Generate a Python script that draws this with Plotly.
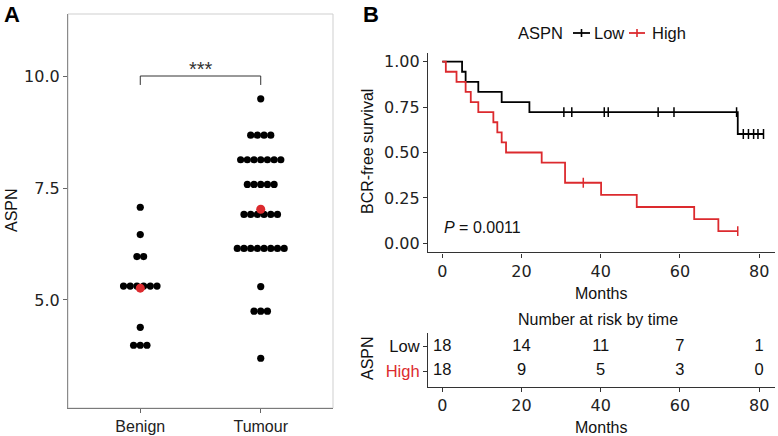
import plotly.graph_objects as go

# ---------------- Panel A data ----------------
groups = ["Benign", "Tumour"]
benign_aspn = [7.07, 6.46, 5.97, 5.97, 5.31, 5.31, 5.31, 5.31, 5.31, 5.31,
               4.39, 3.99, 3.99, 3.99]
tumour_aspn = [9.49,
               8.68, 8.68, 8.68, 8.68,
               8.13, 8.13, 8.13, 8.13, 8.13, 8.13, 8.13,
               7.58, 7.58, 7.58, 7.58, 7.58,
               6.91, 6.91, 6.91, 6.91, 6.91, 6.91,
               6.15, 6.15, 6.15, 6.15, 6.15, 6.15, 6.15, 6.15,
               5.30,
               4.75, 4.75, 4.75,
               3.70]
a_yticks = [5.0, 7.5, 10.0]
signif_label = "***"
bracket_level = 10.0

# ---------------- Panel B data ----------------
low_times = [5.0, 5.9, 9.1, 15.0, 22.0, 30.7, 32.7, 40.9, 41.9, 54.5, 58.5,
             74.3, 74.6, 76.0, 77.3, 78.6, 79.7, 81.1]
low_event = [1, 1, 1, 1, 1, 0, 0, 0, 0, 0, 0, 0, 1, 0, 0, 0, 0, 0]
high_times = [0.9, 3.6, 5.9, 7.2, 9.1, 12.9, 13.9, 15.0, 16.1, 25.1, 31.0,
              31.0, 35.6, 40.1, 49.1, 63.6, 69.7, 74.6]
high_event = [1, 1, 1, 1, 1, 1, 1, 1, 1, 1, 1, 1, 0, 1, 1, 1, 1, 0]
b_xticks = [0, 20, 40, 60, 80]
b_yticks = [0.0, 0.25, 0.5, 0.75, 1.0]
risk_times = [0, 20, 40, 60, 80]
legend_title = "ASPN"
legend_names = ["Low", "High"]
p_text = "<i>P</i> = 0.0011"

RED = "#dc2a2e"
BLACK = "#000000"
FONT = "Liberation Sans, Arial, Helvetica, sans-serif"
NUMFONT = "DejaVu Sans, Liberation Sans, sans-serif"
W, H = 778, 436


def px_x(p):
    return p / W


def px_y(p):
    return 1 - p / H


def km(times, events):
    xs, ys, cx, cy = [0.0], [1.0], [], []
    s = 1.0
    for t in sorted(set(times)):
        d = sum(1 for tt, e in zip(times, events) if tt == t and e == 1)
        c = sum(1 for tt, e in zip(times, events) if tt == t and e == 0)
        n = sum(1 for tt in times if tt >= t)
        if d > 0:
            s *= (1 - d / n)
            xs.append(t)
            ys.append(s)
        for _ in range(c):
            cx.append(t)
            cy.append(s)
    xs.append(max(times))
    ys.append(s)
    return xs, ys, cx, cy


def dot_positions(values, center, step):
    xs, ys = [], []
    for v in sorted(set(values), reverse=True):
        n = values.count(v)
        for i in range(n):
            xs.append(center + (i - (n - 1) / 2) * step)
            ys.append(v)
    return xs, ys


fig = go.Figure()

# ---------- Panel A: dot plot ----------
dot_step = 0.0556
for gi, vals in enumerate([benign_aspn, tumour_aspn]):
    xs, ys = dot_positions(vals, gi + 1, dot_step)
    fig.add_trace(go.Scatter(x=xs, y=ys, mode="markers",
                             marker=dict(size=7.2, color=BLACK),
                             showlegend=False, xaxis="x", yaxis="y",
                             hoverinfo="skip"))
means = [sum(v) / len(v) for v in [benign_aspn, tumour_aspn]]
fig.add_trace(go.Scatter(x=[1, 2], y=means, mode="markers",
                         marker=dict(size=9, color=RED),
                         showlegend=False, xaxis="x", yaxis="y"))
# significance bracket
fig.add_trace(go.Scatter(x=[1, 1, 2, 2],
                         y=[bracket_level - 0.2, bracket_level, bracket_level, bracket_level - 0.2],
                         mode="lines", line=dict(color="#333333", width=1),
                         showlegend=False, xaxis="x", yaxis="y", hoverinfo="skip"))
fig.add_annotation(x=1.5, y=bracket_level, xref="x", yref="y", text=signif_label,
                   showarrow=False, yanchor="bottom", yshift=-6,
                   font=dict(size=20, color="#333333", family=FONT))

# ---------- Panel B: KM curves ----------
for name, times, events, col in [("Low", low_times, low_event, BLACK),
                                 ("High", high_times, high_event, RED)]:
    xs, ys, cx, cy = km(times, events)
    fig.add_trace(go.Scatter(x=xs, y=ys, mode="lines", line=dict(color=col, width=1.8, shape="hv"),
                             showlegend=False, xaxis="x2", yaxis="y2"))
    fig.add_trace(go.Scatter(x=cx, y=cy, mode="markers",
                             marker=dict(symbol="line-ns", size=7,
                                         line=dict(width=1.5, color=col), color=col),
                             showlegend=False, xaxis="x2", yaxis="y2"))

fig.add_annotation(x=0, y=0.085, xref="x2", yref="y2", text=p_text, showarrow=False,
                   xanchor="left", yanchor="middle",
                   font=dict(size=16, color="#111111", family=FONT))

# ---------- Risk table ----------
for gi, (times) in enumerate([low_times, high_times]):
    counts = [sum(1 for t in times if t >= rt) for rt in risk_times]
    fig.add_trace(go.Scatter(x=risk_times, y=[2 - gi] * len(risk_times), mode="text",
                             text=[str(c) for c in counts],
                             textfont=dict(size=16.5, color="#111111", family=FONT),
                             showlegend=False, xaxis="x3", yaxis="y3", hoverinfo="skip"))

numtick = dict(size=16, color="#222222", family=NUMFONT)
cattick = dict(size=16, color="#222222", family=FONT)

fig.update_layout(
    width=W, height=H, margin=dict(l=0, r=0, t=0, b=0),
    paper_bgcolor="white", plot_bgcolor="white",
    font=dict(family=FONT, size=15, color="#111111"),
    showlegend=False,
    xaxis=dict(domain=[px_x(68), px_x(333)], range=[0.4, 2.6],
               tickvals=[1, 2], ticktext=groups, ticks="outside", ticklen=4,
               tickcolor="#666666", showgrid=False, zeroline=False,
               showline=True, linecolor="#7a7a7a", linewidth=1.2, tickfont=cattick),
    yaxis=dict(domain=[px_y(408), px_y(14)], range=[2.589, 11.384],
               tickvals=a_yticks, ticktext=["%.1f" % v for v in a_yticks],
               ticks="outside", ticklen=4, tickcolor="#666666", showgrid=False,
               zeroline=False, showline=True, linecolor="#8a8a8a", linewidth=1.2,
               tickfont=numtick),
    xaxis2=dict(domain=[px_x(428), px_x(775)], range=[-3.6, 84.0],
                tickvals=b_xticks, ticks="outside", ticklen=4, tickcolor="#333333",
                showgrid=False, zeroline=False, showline=True, linecolor="#333333",
                linewidth=1.2, tickfont=numtick, anchor="y2"),
    yaxis2=dict(domain=[px_y(252.4), px_y(52.6)], range=[-0.05, 1.05],
                tickvals=b_yticks, ticktext=["%.2f" % v for v in b_yticks],
                ticks="outside", ticklen=4, tickcolor="#333333", showgrid=False,
                zeroline=False, showline=True, linecolor="#333333", linewidth=1.2,
                tickfont=numtick, anchor="x2"),
    xaxis3=dict(domain=[px_x(428), px_x(775)], range=[-3.6, 84.0],
                tickvals=b_xticks, ticks="outside", ticklen=4, tickcolor="#333333",
                showgrid=False, zeroline=False, showline=True, linecolor="#333333",
                linewidth=1.2, tickfont=numtick, anchor="y3"),
    yaxis3=dict(domain=[px_y(386.7), px_y(332.7)], range=[0.354, 2.576],
                tickvals=[2, 1],
                ticktext=["Low", '<span style="color:%s">High</span>' % RED],
                ticks="outside", ticklen=4, tickcolor="#333333", showgrid=False,
                zeroline=False, showline=True, linecolor="#333333", linewidth=1.2,
                tickfont=dict(size=16.5, color="#111111", family=FONT), anchor="x3"),
)

# panel A border (domain-relative)
fig.add_shape(type="rect", xref="x domain", yref="y domain", x0=0, x1=1, y0=0, y1=1,
              line=dict(color="#cfcfcf", width=1), layer="below")

# legend (key glyphs drawn in paper space)
leg_y = 33
leg_items = [(legend_names[0], BLACK, 573, 590, 592), (legend_names[1], RED, 629, 645, 650)]
fig.add_annotation(xref="paper", yref="paper", x=px_x(516), y=px_y(leg_y), text=legend_title,
                   showarrow=False, xanchor="left", yanchor="middle",
                   font=dict(size=16.5, color="#111111", family=FONT))
for name, col, gx0, gx1, tx in leg_items:
    fig.add_shape(type="line", xref="paper", yref="paper", x0=px_x(gx0), x1=px_x(gx1),
                  y0=px_y(leg_y), y1=px_y(leg_y), line=dict(color=col, width=1.8))
    gm = (gx0 + gx1) / 2
    fig.add_shape(type="line", xref="paper", yref="paper", x0=px_x(gm), x1=px_x(gm),
                  y0=px_y(leg_y - 4), y1=px_y(leg_y + 4), line=dict(color=col, width=1.6))
    fig.add_annotation(xref="paper", yref="paper", x=px_x(tx), y=px_y(leg_y), text=name,
                       showarrow=False, xanchor="left", yanchor="middle",
                       font=dict(size=16.5, color="#111111", family=FONT))

title_font = dict(size=16, color="#111111", family=FONT)
annots = [
    dict(text="<b>A</b>", x=px_x(2), y=px_y(14), xanchor="left", yanchor="middle",
         font=dict(size=22, color="#000000", family=FONT)),
    dict(text="<b>B</b>", x=px_x(361), y=px_y(14), xanchor="left", yanchor="middle",
         font=dict(size=22, color="#000000", family=FONT)),
    dict(text="ASPN", x=px_x(11), y=px_y(210), textangle=-90, xanchor="center",
         yanchor="middle", font=title_font),
    dict(text="BCR-free survival", x=px_x(367), y=px_y(152), textangle=-90,
         xanchor="center", yanchor="middle", font=title_font),
    dict(text="Months", x=px_x(601), y=px_y(293), xanchor="center", yanchor="middle",
         font=title_font),
    dict(text="Number at risk by time", x=px_x(598), y=px_y(319), xanchor="center",
         yanchor="middle", font=title_font),
    dict(text="ASPN", x=px_x(367), y=px_y(358), textangle=-90, xanchor="center",
         yanchor="middle", font=title_font),
    dict(text="Months", x=px_x(601), y=px_y(427), xanchor="center", yanchor="middle",
         font=title_font),
]
for a in annots:
    fig.add_annotation(xref="paper", yref="paper", showarrow=False, **a)

fig.write_html("out.html", config={"displayModeBar": False},
               post_script="document.body.style.margin='0';document.body.style.overflow='hidden';")
